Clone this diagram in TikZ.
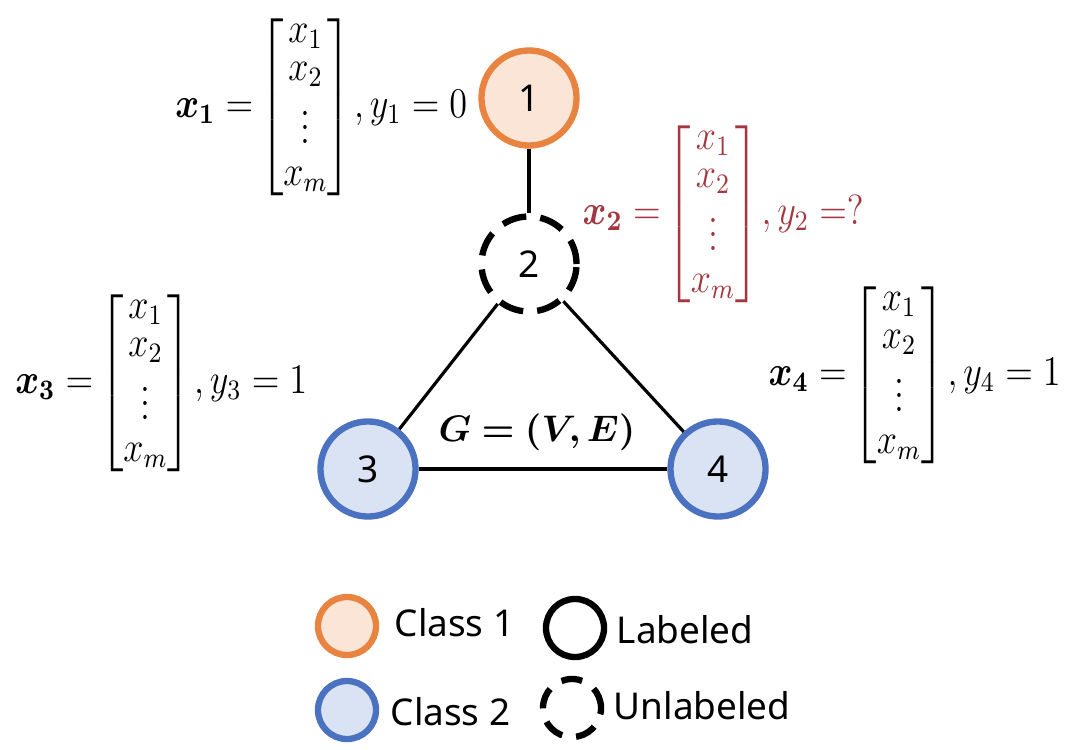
\documentclass[tikz,border=0pt]{standalone}
\usepackage{fix-cm}
\usepackage{amsmath}
\usepackage{bm}
\usepackage{graphicx}
\usepackage{fontspec}
\newfontfamily\labelfont{Noto Sans}
\usetikzlibrary{positioning}

\definecolor{classone}{HTML}{E8843F}
\definecolor{classonefill}{HTML}{FBE5D6}
\definecolor{classtwo}{HTML}{4A72C0}
\definecolor{classtwofill}{HTML}{DAE3F3}
\definecolor{unknownred}{HTML}{A3373F}

\newcommand{\featvec}{\mkern-2mu\renewcommand{\arraystretch}{0.7}\left[\begin{array}{@{}c@{}} x_1\\[1pt] x_2\\ \vdots\\[2pt] x_m \end{array}\right]\mkern-2mu}
\newcommand{\featlabel}[2]{\scalebox{0.86}[1]{$\bm{x}_{\bm{#1}}=\featvec,y_{#1}=#2$}}

\tikzset{
  vertex/.style={circle, minimum size=0.95cm, inner sep=0pt, line width=1.8pt,
    font=\labelfont\fontsize{10.5}{12}\selectfont},
  class one/.style={vertex, draw=classone, fill=classonefill},
  class two/.style={vertex, draw=classtwo, fill=classtwofill},
  unlabeled/.style={vertex, draw=black, dash pattern=on 7pt off 4pt},
  key/.style={circle, minimum size=0.58cm, inner sep=0pt, line width=1.8pt},
  keytext/.style={anchor=west, inner sep=0pt, font=\labelfont\fontsize{10.5}{12}\selectfont},
  edge/.style={line width=0.9pt},
  feat/.style={inner sep=0pt, font=\fontsize{12}{14}\selectfont}
}

\begin{document}
\begin{tikzpicture}[x=0.01cm, y=-0.01cm]

  \useasboundingbox (0,0) rectangle (1080,749);

  % Draw the graph nodes
  \node[class one] (n1) at (529,98) {1};
  \node[unlabeled] (n2) at (529,264) {2};
  \node[class two] (n3) at (368,469) {3};
  \node[class two] (n4) at (718,469) {4};

  % Draw the edges
  \draw[edge] (n1) -- (n2);
  \draw[edge] (n2) -- (n3);
  \draw[edge] (n2) -- (n4);
  \draw[edge] (n3) -- (n4);

  % Graph name
  \node[feat, font=\fontsize{10.5}{13}\selectfont] (graph) at (537,432) {$\bm{G=(V,E)}$};

  % Feature vectors and labels
  \node[feat, anchor=east] (f1) at (468,107) {\featlabel{1}{0}};
  \node[feat, anchor=west, text=unknownred] (f2) at (582,214) {\featlabel{2}{?}};
  \node[feat, anchor=east] (f3) at (308,383) {\featlabel{3}{1}};
  \node[feat, anchor=west] (f4) at (768,375) {\featlabel{4}{1}};

  % Legend
  \node[key, draw=classone, fill=classonefill] (k1) at (347,626) {};
  \node[key, draw=classtwo, fill=classtwofill] (k2) at (347,710) {};
  \node[key, draw=black] (k3) at (575,628) {};
  \node[key, draw=black, dash pattern=on 6pt off 4pt] (k4) at (572,708) {};
  \node[keytext] (t1) at (394,623) {Class 1};
  \node[keytext] (t2) at (390,712) {Class 2};
  \node[keytext] (t3) at (616,630) {Labeled};
  \node[keytext] (t4) at (613,706) {Unlabeled};

\end{tikzpicture}
\end{document}
